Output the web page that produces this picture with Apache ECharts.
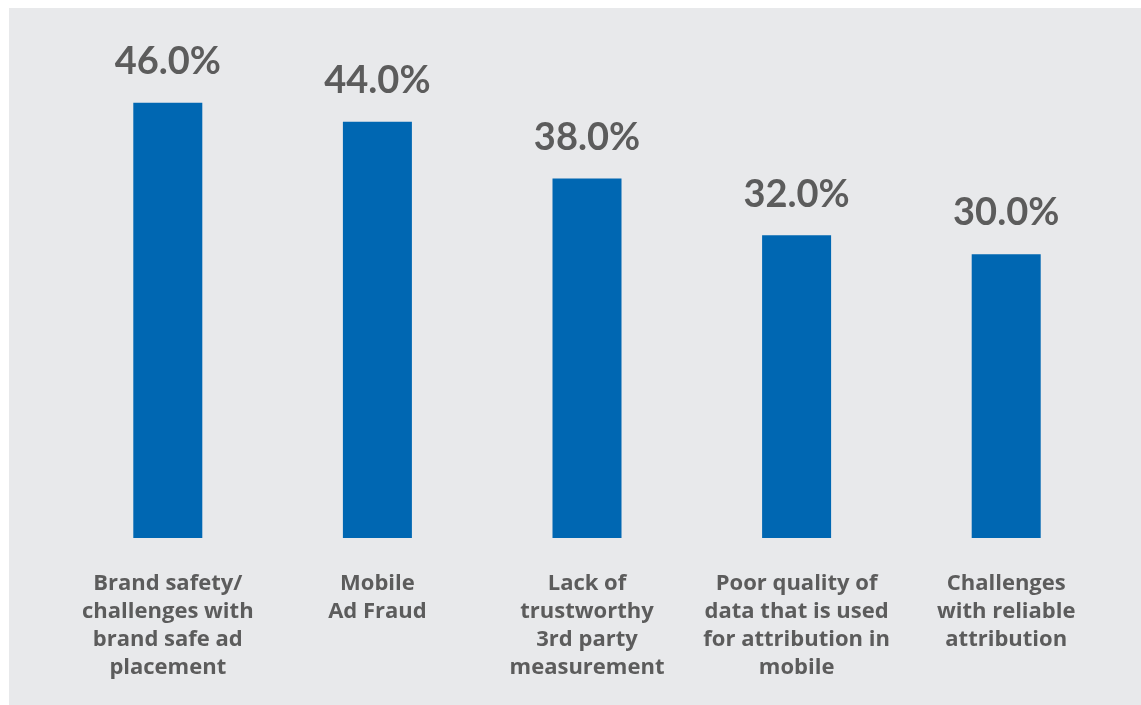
<!DOCTYPE html>
<html>
<head>
<meta charset="utf-8">
<title>Mobile advertising challenges</title>
<script src="https://cdn.jsdelivr.net/npm/echarts@6/dist/echarts.min.js"></script>
<style>
  html, body { margin: 0; padding: 0; background: #ffffff; }
  #chart { width: 1141px; height: 705px; }
</style>
</head>
<body>
<div id="chart"></div>
<script>
// Survey categories (line breaks as laid out under each bar)
const categories = [
  'Brand safety/\nchallenges with\nbrand safe ad\nplacement',
  'Mobile\nAd Fraud',
  'Lack of\ntrustworthy\n3rd party\nmeasurement',
  'Poor quality of\ndata that is used\nfor attribution in\nmobile',
  'Challenges\nwith reliable\nattribution'
];

// Share of respondents, in percent
const shares = [46.0, 44.0, 38.0, 32.0, 30.0];

const chart = echarts.init(document.getElementById('chart'), null, { renderer: 'canvas' });

chart.setOption({
  backgroundColor: '#ffffff',
  animation: false,
  graphic: [{
    type: 'rect',
    z: -10,
    silent: true,
    shape: { x: 9, y: 8, width: 1132, height: 697 },
    style: { fill: '#e8e9eb' }
  }],
  grid: { left: 63, right: 30, top: 65, bottom: 167 },
  xAxis: {
    type: 'category',
    data: categories,
    axisLine: { show: false },
    axisTick: { show: false },
    axisLabel: {
      interval: 0,
      margin: 32,
      fontFamily: 'Open Sans',
      fontWeight: 'bold',
      fontSize: 22,
      lineHeight: 28,
      color: '#5c5c5c',
      align: 'center'
    }
  },
  yAxis: {
    type: 'value',
    min: 0,
    max: 50,
    show: false,
    splitLine: { show: false }
  },
  series: [{
    type: 'bar',
    data: shares,
    barWidth: 69,
    itemStyle: { color: '#0067b2' },
    label: {
      show: true,
      position: 'top',
      distance: 22,
      fontFamily: 'Lato',
      fontWeight: 'bold',
      fontSize: 38,
      color: '#5c5c5c',
      formatter: p => p.value.toFixed(1) + '%'
    }
  }]
});
</script>
</body>
</html>
